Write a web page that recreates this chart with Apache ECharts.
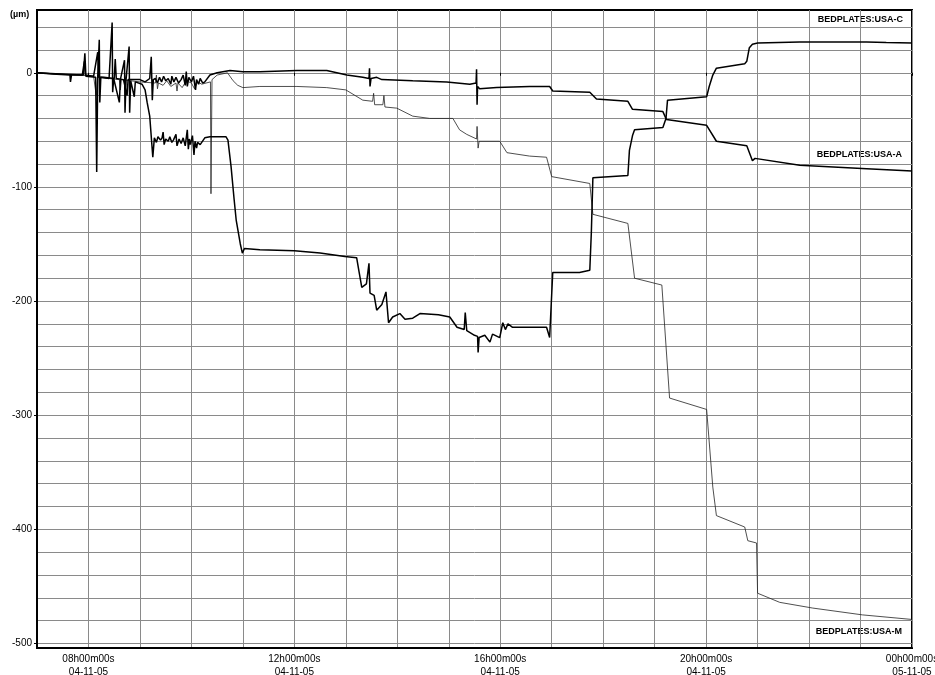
<!DOCTYPE html>
<html>
<head>
<meta charset="utf-8">
<title>BEDPLATES</title>
<script src="https://cdn.jsdelivr.net/npm/echarts@6/dist/echarts.min.js"></script>
<style>
	html, body { margin: 0; padding: 0; background: #fff; }
	#main { width: 935px; height: 675px; }
</style>
</head>
<body>
<div id="main"></div>
<script>
// 时间(小时, 04-11-05 00:00 起) , 位移 (µm)
var usaC = [
	[7.00,0],[7.30,-1],[7.64,-2],[7.65,-8],[7.67,-2],[7.90,-2],[7.93,17],[7.95,-3],[8.14,-4],[8.16,-87],[8.18,-3],
	[8.21,29],[8.22,-26],[8.24,-4],[8.40,-5],[8.46,44],[8.47,-17],[8.49,-5],[8.60,-26],[8.62,-6],[8.70,11],[8.71,-35],
	[8.73,-6],[8.79,23],[8.80,-35],[8.82,-7],[8.89,-21],[8.91,-8],[9.04,-10],[9.10,-15],[9.14,-26],[9.19,-38],[9.25,-74],
	[9.28,-57],[9.32,-61],[9.35,-56],[9.40,-59],[9.43,-57],[9.45,-52],[9.47,-63],[9.50,-58],[9.55,-60],[9.58,-56],
	[9.62,-61],[9.65,-59],[9.70,-54],[9.72,-64],[9.76,-58],[9.80,-62],[9.84,-57],[9.88,-64],[9.92,-50],[9.94,-67],
	[9.96,-58],[9.98,-63],[10.02,-55],[10.05,-72],[10.07,-60],[10.10,-66],[10.12,-61],[10.17,-63],[10.26,-57],[10.36,-56],
	[10.67,-56],[10.71,-59],[10.77,-82],[10.83,-111],[10.87,-129],[10.95,-150],[10.99,-158],[11.03,-154],[11.33,-155],
	[12.00,-156],[12.50,-158],[12.98,-161],[13.21,-162],[13.26,-175],[13.31,-188],[13.40,-185],[13.45,-167],[13.47,-193],
	[13.55,-195],[13.60,-208],[13.70,-203],[13.78,-192],[13.83,-219],[13.91,-214],[14.05,-211],[14.15,-216],[14.30,-215],
	[14.44,-211],[14.80,-212],[15.02,-214],[15.16,-223],[15.30,-225],[15.32,-210],[15.35,-226],[15.50,-230],[15.56,-231],
	[15.57,-245],[15.59,-232],[15.70,-230],[15.80,-236],[15.85,-229],[15.99,-232],[16.05,-219],[16.10,-225],[16.15,-220],
	[16.24,-223],[16.60,-223],[16.90,-223],[16.96,-232],[17.02,-175],[17.54,-175],[17.74,-173],[17.77,-140],[17.80,-92],
	[18.48,-90],[18.51,-68],[18.57,-55],[18.61,-50],[19.16,-48],[19.22,-40],[19.25,-24],[20.01,-21],[20.06,-12],[20.13,-2],
	[20.20,4],[20.75,8],[20.79,10],[20.84,22],[20.90,25],[21.00,26],[21.82,27],[22.50,27],[23.12,27],[23.50,26.5],[24.00,26]
];
var usaA = [
	[7.00,0],[7.45,-1],[7.88,-2],[7.92,10],[7.94,-2],[8.10,-3],[8.18,18],[8.20,-4],[8.30,-4],[8.50,-5],[8.52,12],[8.54,-5],
	[8.68,-6],[8.75,-20],[8.77,-6],[9.00,-6],[9.10,-8],[9.19,-5],[9.22,14],[9.24,-24],[9.26,-6],[9.30,-5],[9.34,-9],
	[9.38,-4],[9.42,-8],[9.46,-3],[9.50,-7],[9.55,-5],[9.60,-10],[9.62,-3],[9.66,-8],[9.70,-4],[9.75,-9],[9.80,-6],
	[9.84,-2],[9.88,-11],[9.90,1],[9.92,-12],[9.95,-4],[10.00,-8],[10.04,-3],[10.08,-15],[10.10,-6],[10.14,-10],
	[10.17,-5],[10.22,-9],[10.26,-8],[10.36,-2],[10.50,0],[10.75,2],[11.00,1],[11.33,1],[12.05,2],[12.63,2],[13.02,-2],
	[13.33,-4],[13.45,-5],[13.46,4],[13.47,-12],[13.49,-5],[13.60,-4],[13.70,-6],[14.30,-7],[14.96,-8],[15.41,-10],
	[15.53,-9],[15.54,3],[15.55,-28],[15.56,-12],[15.60,-14],[15.93,-13],[16.57,-12],[16.96,-12],[17.02,-16],[17.74,-17],
	[17.87,-23],[18.48,-25],[18.57,-32],[19.16,-34],[19.23,-41],[20.01,-46],[20.20,-60],[20.79,-64],[20.90,-77],
	[20.95,-75],[21.82,-81],[23.12,-84],[24.00,-86]
];
var usaM = [
	[7.00,0],[7.80,-2],[8.10,-3],[8.15,-20],[8.18,-4],[8.60,-6],[8.62,-15],[8.64,-6],[9.00,-8],[9.30,-9],[9.32,-2],
	[9.34,-14],[9.36,-9],[9.45,-11],[9.52,-7],[9.60,-12],[9.70,-9],[9.72,-16],[9.74,-9],[9.82,-13],[9.90,-7],
	[10.00,-9],[10.06,-14],[10.12,-8],[10.20,-10],[10.37,-8],[10.38,-106],[10.40,-6],[10.50,-2],[10.70,0],[10.81,-7],
	[10.90,-11],[11.00,-13],[11.33,-12],[12.05,-12],[12.63,-13],[13.00,-15],[13.33,-24],[13.52,-25],[13.54,-18],
	[13.56,-28],[13.72,-28],[13.74,-20],[13.76,-30],[13.99,-31],[14.30,-38],[14.63,-40],[15.08,-40],[15.21,-50],
	[15.35,-54],[15.54,-58],[15.55,-47],[15.57,-66],[15.59,-60],[15.99,-60],[16.13,-70],[16.57,-73],[16.90,-74],
	[17.00,-91],[17.74,-97],[17.80,-124],[18.48,-132],[18.61,-180],[19.14,-186],[19.29,-285],[20.01,-295],[20.13,-363],
	[20.20,-388],[20.75,-398],[20.81,-410],[20.98,-412],[21.00,-456],[21.43,-464],[22.07,-469],[23.04,-475],[24.00,-479]
];
// 坐标轴刻度
var xLabelHours = [8, 12, 16, 20, 24];
var xGridHours = [7,8,9,10,11,12,13,14,15,16,17,18,19,20,21,22,23,24];
var yLabelValues = [-500, -400, -300, -200, -100, 0];
var yGridValues = [-500,-480,-460,-440,-420,-400,-380,-360,-340,-320,-300,-280,-260,-240,-220,-200,-180,-160,
	-140,-120,-100,-80,-60,-40,-20,0,20,40];
var seriesNames = ['BEDPLATES:USA-C', 'BEDPLATES:USA-A', 'BEDPLATES:USA-M'];

var font = 'Arial, "Liberation Sans", sans-serif';

function hourLabel(v) {
	var h = Math.round(v) % 24;
	var day = v >= 24 ? '05-11-05' : '04-11-05';
	return (h < 10 ? '0' + h : h) + 'h00m00s\n' + day;
}

var chart = echarts.init(document.getElementById('main'));
var option = {
	animation : false,
	backgroundColor : '#fff',
	grid : {
		left : 37, right : 23, top : 10, bottom : 27,
		outerBoundsMode : 'none',
		containLabel : false,
		show : true,
		borderColor : '#000',
		borderWidth : 2
	},
	xAxis : [ {
		type : 'value',
		min : 7, max : 24,
		axisLine : { show : true, onZero : false, lineStyle : { color : '#000', width : 2 } },
		axisTick : { show : false, customValues : xGridHours },
		axisLabel : {
			customValues : xLabelHours,
			formatter : hourLabel,
			color : '#000', fontSize : 10, fontFamily : font,
			lineHeight : 13, margin : 5
		},
		splitLine : { show : true, lineStyle : { color : '#8a8a8a', width : 1 } }
	}, {
		// 只画带标签处的小刻度
		type : 'value',
		min : 7, max : 24,
		position : 'bottom',
		axisLine : { show : false },
		axisTick : { show : true, length : 3, customValues : xLabelHours, lineStyle : { color : '#000' } },
		axisLabel : { show : false },
		splitLine : { show : false }
	} ],
	yAxis : [ {
		type : 'value',
		min : -504, max : 55,
		axisLine : { show : true, onZero : false, lineStyle : { color : '#000', width : 2 } },
		axisTick : { show : false, customValues : yGridValues },
		axisLabel : {
			customValues : yLabelValues,
			color : '#000', fontSize : 10, fontFamily : font, margin : 5
		},
		splitLine : { show : true, lineStyle : { color : '#8a8a8a', width : 1 } }
	}, {
		type : 'value',
		min : -504, max : 55,
		position : 'left',
		axisLine : { show : false },
		axisTick : { show : true, length : 3, customValues : yLabelValues, lineStyle : { color : '#000' } },
		axisLabel : { show : false },
		splitLine : { show : false }
	} ],
	series : [ {
		name : seriesNames[2],
		type : 'line',
		data : usaM,
		symbol : 'none',
		lineStyle : { color : '#222', width : 0.8 }
	}, {
		name : seriesNames[1],
		type : 'line',
		data : usaA,
		symbol : 'none',
		lineStyle : { color : '#000', width : 1.5 }
	}, {
		name : seriesNames[0],
		type : 'line',
		data : usaC,
		symbol : 'none',
		lineStyle : { color : '#000', width : 1.5 }
	} ],
	graphic : [ {
		type : 'text', left : 10, top : 10,
		style : { text : '(µm)', fontSize : 9, fontWeight : 'bold', fontFamily : font, fill : '#000' }
	}, {
		type : 'text', right : 30, top : 14,
		style : { text : seriesNames[0], fontSize : 9, fontWeight : 'bold', fontFamily : font, fill : '#000',
			backgroundColor : '#fff', padding : [1, 2] }
	}, {
		type : 'text', right : 31, top : 149,
		style : { text : seriesNames[1], fontSize : 9, fontWeight : 'bold', fontFamily : font, fill : '#000',
			backgroundColor : '#fff', padding : [1, 2] }
	}, {
		type : 'text', right : 31, top : 626,
		style : { text : seriesNames[2], fontSize : 9, fontWeight : 'bold', fontFamily : font, fill : '#000',
			backgroundColor : '#fff', padding : [1, 2] }
	} ]
};
chart.setOption(option);
</script>
</body>
</html>
